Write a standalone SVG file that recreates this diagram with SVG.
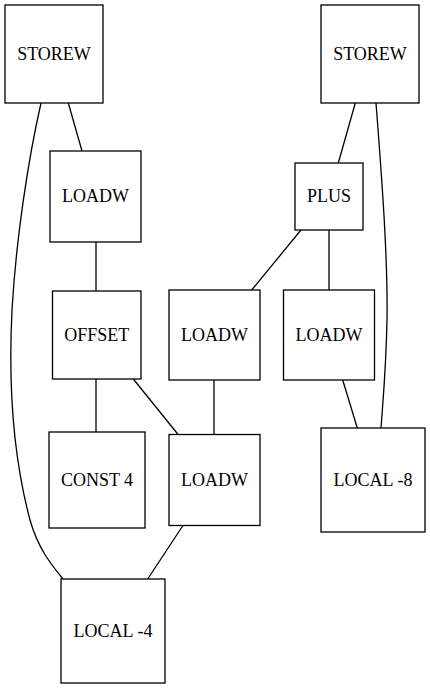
<svg xmlns="http://www.w3.org/2000/svg" width="430" height="688" viewBox="0 0 430 688">
<style>
.n rect{fill:#fff;stroke:#000;stroke-width:1.3}
.n text{font-size:18px;text-anchor:middle;fill:#000}
.e path{fill:none;stroke:#000;stroke-width:1.3}
</style>
<rect width="430" height="688" fill="#fff"/>
<g class="e" id="edges">
<path d="M68.3,103 L82,151"/>
<path d="M41,103 C28,160 16,240 12,310 C8,390 14,460 30,520 C38,548 50,563 63,579"/>
<path d="M96,241.5 L96,291"/>
<path d="M96,379 L96,432"/>
<path d="M133.3,379 L177.7,434"/>
<path d="M214,380 L214,434"/>
<path d="M183.3,525 L147.7,579"/>
<path d="M355.3,103 L338.3,163"/>
<path d="M376,103 C382,180 388,260 387,320 C386,370 383,400 381,428"/>
<path d="M301,230 L251.7,290"/>
<path d="M329,230 L329,290"/>
<path d="M342.7,380 L357.3,428"/>
</g>
<g font-family="'Liberation Serif', 'Times New Roman', 'DejaVu Serif', serif">
<g class="n" id="storew1"><rect x="5" y="5" width="98" height="98"/><text x="54" y="60.3">STOREW</text></g>
<g class="n" id="loadw1"><rect x="50" y="151" width="91" height="91"/><text x="95.5" y="202.3">LOADW</text></g>
<g class="n" id="offset"><rect x="52.5" y="291" width="88.5" height="88"/><text x="96.7" y="341.3">OFFSET</text></g>
<g class="n" id="const4"><rect x="49" y="432" width="96" height="96"/><text x="97" y="486.3">CONST 4</text></g>
<g class="n" id="loadw2"><rect x="169" y="434.5" width="91" height="91"/><text x="214.5" y="486.3">LOADW</text></g>
<g class="n" id="local4"><rect x="61" y="579" width="104" height="104"/><text x="113" y="637.3">LOCAL -4</text></g>
<g class="n" id="storew2"><rect x="321" y="5" width="98" height="98"/><text x="370" y="60.3">STOREW</text></g>
<g class="n" id="plus"><rect x="295" y="163" width="68" height="67"/><text x="329" y="202.3">PLUS</text></g>
<g class="n" id="loadw3"><rect x="169" y="290" width="91" height="90"/><text x="214.5" y="341.3">LOADW</text></g>
<g class="n" id="loadw4"><rect x="283.5" y="290" width="91" height="90"/><text x="329" y="341.3">LOADW</text></g>
<g class="n" id="local8"><rect x="321" y="428" width="104" height="104"/><text x="373" y="486.3">LOCAL -8</text></g>
</g>
</svg>
